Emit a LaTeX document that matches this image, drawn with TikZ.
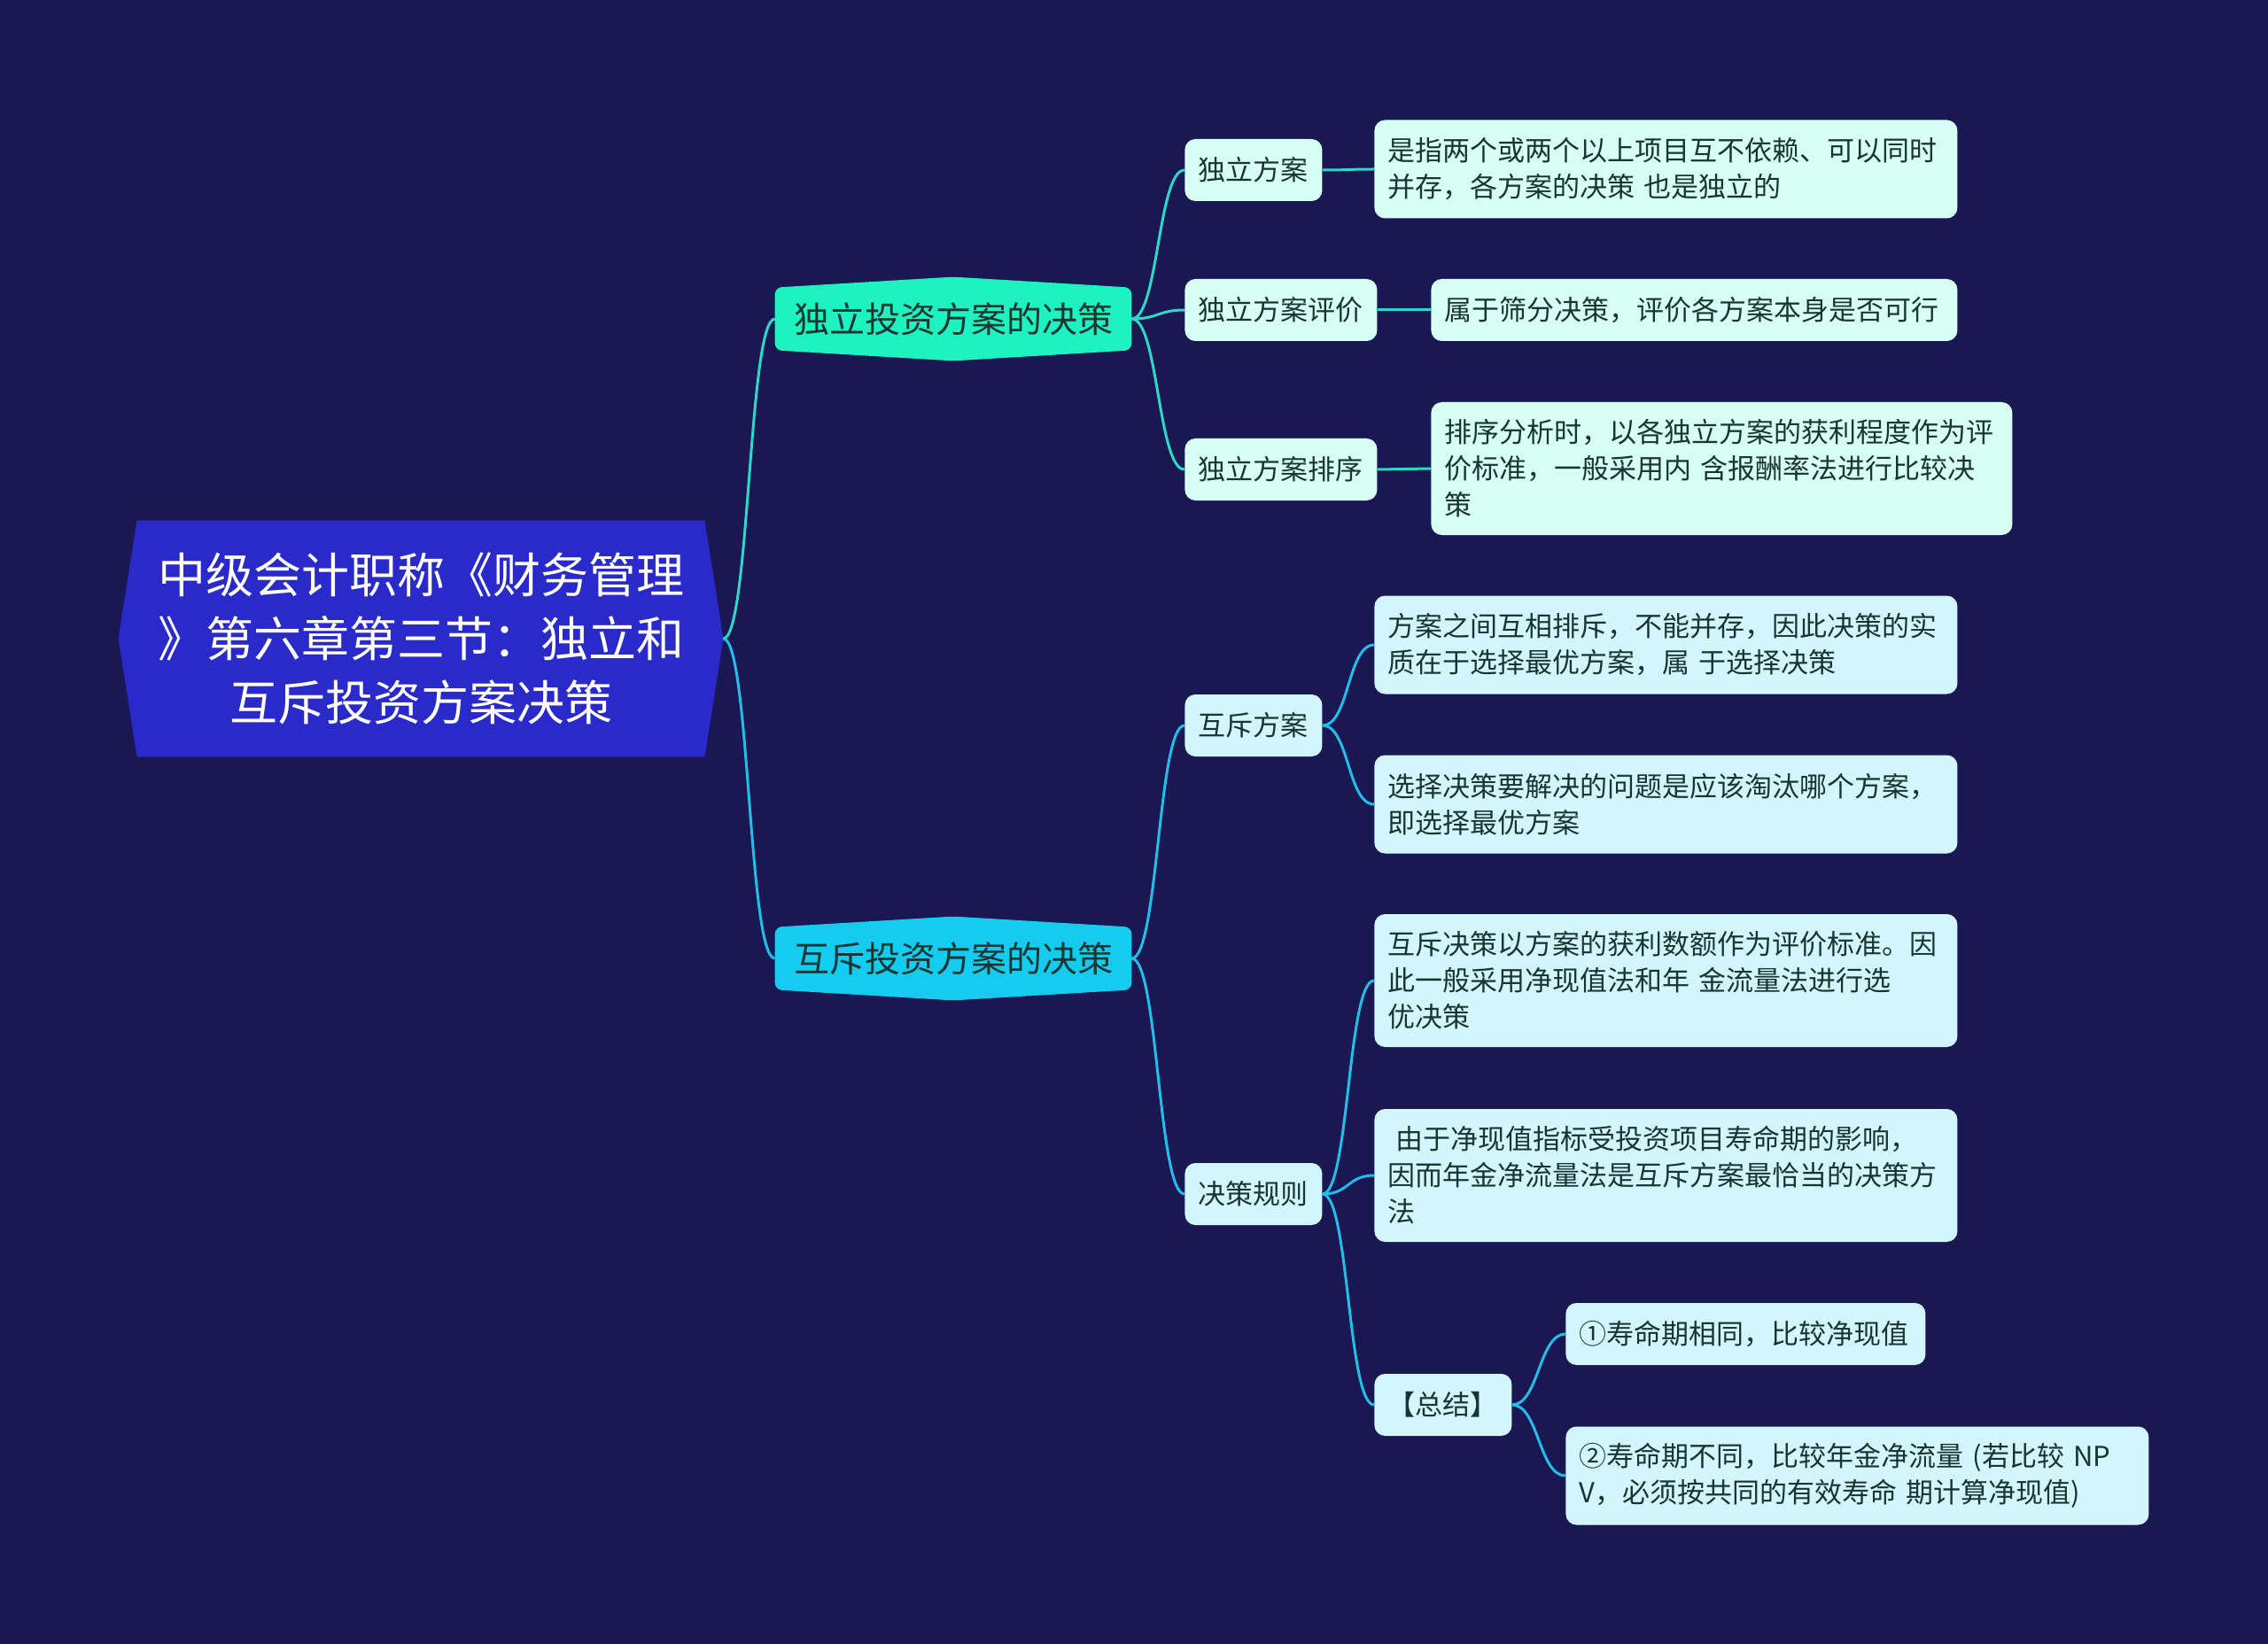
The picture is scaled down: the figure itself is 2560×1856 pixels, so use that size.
\documentclass[tikz,border=0pt]{standalone}
\usepackage{fontspec}
\setmainfont{Noto Sans CJK SC}
\usetikzlibrary{calc}
\definecolor{bg}{HTML}{1A1852}
\definecolor{rootc}{HTML}{2A2ACA}
\definecolor{b1c}{HTML}{1EF2C0}
\definecolor{b2c}{HTML}{14CBF0}
\definecolor{l1c}{HTML}{D8FFF4}
\definecolor{l2c}{HTML}{D3F5FC}
\definecolor{txt}{HTML}{173632}
\definecolor{e1c}{HTML}{2ED8C6}
\definecolor{e2c}{HTML}{22BDE8}
\pgfdeclarelayer{bottom}
\pgfdeclarelayer{background}
\pgfsetlayers{bottom,background,main}
\tikzset{
  rootbox/.style={text=white, minimum width=320pt, minimum height=133pt, inner sep=0pt, align=center, font=\fontsize{27pt}{36pt}\selectfont},
  branchbox/.style={text=txt, minimum width=201pt, minimum height=35pt, inner sep=0pt, font=\fontsize{20pt}{26pt}\selectfont},
  midbox/.style={text=txt, anchor=west, minimum height=35pt, inner sep=0pt, rounded corners=6pt, align=center, font=\fontsize{15.5pt}{20.5pt}\selectfont},
  leafbox/.style={text=txt, anchor=west, inner xsep=7.5pt, inner ysep=0pt, rounded corners=6pt, align=left, font=\fontsize{15.5pt}{20.5pt}\selectfont},
  conn/.style={line width=1.5pt},
}
\begin{document}
\begin{tikzpicture}[x=0.5pt,y=-0.5pt]
\begin{pgfonlayer}{bottom}
\fill[bg] (0,0) rectangle (2560,1856);
\end{pgfonlayer}
\useasboundingbox (0,0) rectangle (2560,1856);

% root
\node[rootbox] (root) at (475,721) {中级会计职称《财务管理\\》第六章第三节：独立和\\互斥投资方案决策};
\coordinate (rootTip) at ($(root.east)+(21,0)$);

% branches
\node[branchbox] (b1) at (1076,360) {独立投资方案的决策};
\node[branchbox] (b2) at (1076,1082) {互斥投资方案的决策};

\begin{pgfonlayer}{background}
\fill[rootc] (root.north west) -- (root.north east) -- (rootTip) -- (root.south east) -- (root.south west) -- ($(root.west)+(-21,0)$) -- cycle;
\fill[b1c, rounded corners=4pt] (b1.west) -- (b1.north west) -- ($(b1.north)+(0,-12)$) -- (b1.north east) -- (b1.south east) -- ($(b1.south)+(0,12)$) -- (b1.south west) -- cycle;
\fill[b2c, rounded corners=4pt] (b2.west) -- (b2.north west) -- ($(b2.north)+(0,-12)$) -- (b2.north east) -- (b2.south east) -- ($(b2.south)+(0,12)$) -- (b2.south west) -- cycle;
\end{pgfonlayer}

% level 2, branch 1
\node[midbox, fill=l1c, minimum width=77.5pt] (n1) at (1337,192) {独立方案};
\node[midbox, fill=l1c, minimum width=108.5pt] (n2) at (1337,350) {独立方案评价};
\node[midbox, fill=l1c, minimum width=108.5pt] (n3) at (1337,530) {独立方案排序};

\node[leafbox, fill=l1c, text width=314pt, minimum height=55.5pt] (l1) at (1551,191) {是指两个或两个以上项目互不依赖、可以同时\\并存，各方案的决策 也是独立的};
\node[leafbox, fill=l1c, text width=282pt, minimum height=35pt] (l2) at (1615,350) {属于筛分决策，评价各方案本身是否可行};
\node[leafbox, fill=l1c, text width=313pt, minimum height=75pt] (l3) at (1615,529) {排序分析时，以各独立方案的获利程度作为评\\价标准，一般采用内 含报酬率法进行比较决\\策};

% level 2, branch 2
\node[midbox, fill=l2c, minimum width=77.5pt] (m1) at (1337,819) {互斥方案};
\node[midbox, fill=l2c, minimum width=77.5pt] (m2) at (1337,1348) {决策规则};

\node[leafbox, fill=l2c, text width=314pt, minimum height=55.5pt] (p1) at (1551,728) {方案之间互相排斥，不能并存，因此决策的实\\质在于选择最优方案，属 于选择决策};
\node[leafbox, fill=l2c, text width=314pt, minimum height=55.5pt] (p2) at (1551,908) {选择决策要解决的问题是应该淘汰哪个方案，\\即选择最优方案};
\node[leafbox, fill=l2c, text width=314pt, minimum height=75pt] (q1) at (1551,1107) {互斥决策以方案的获利数额作为评价标准。因\\此一般采用净现值法和年 金流量法进行选\\优决策};
\node[leafbox, fill=l2c, text width=314pt, minimum height=75pt] (q2) at (1551,1327) {\hspace{0.3em}由于净现值指标受投资项目寿命期的影响，\\因而年金净流量法是互斥方案最恰当的决策方\\法};
\node[midbox, fill=l2c, minimum width=77.5pt] (s0) at (1551,1586) {【总结】};
\node[leafbox, fill=l2c, text width=188pt, minimum height=35pt] (s1) at (1767,1506) {①寿命期相同，比较净现值};
\node[leafbox, fill=l2c, text width=314pt, minimum height=55.5pt] (s2) at (1767,1666) {②寿命期不同，比较年金净流量 (若比较 NP\\V，必须按共同的有效寿命 期计算净现值)};

% connectors
\draw[conn, e1c] (rootTip) .. controls +(30,0) and +(-30,0) .. (b1.west);
\draw[conn, e2c] (rootTip) .. controls +(30,0) and +(-30,0) .. (b2.west);

\foreach \t in {n1,n2,n3}
  \draw[conn, e1c] (b1.east) .. controls +(30,0) and +(-30,0) .. (\t.west);
\draw[conn, e1c] (n1.east) .. controls +(30,0) and +(-30,0) .. (l1.west);
\draw[conn, e1c] (n2.east) .. controls +(30,0) and +(-30,0) .. (l2.west);
\draw[conn, e1c] (n3.east) .. controls +(30,0) and +(-30,0) .. (l3.west);

\foreach \t in {m1,m2}
  \draw[conn, e2c] (b2.east) .. controls +(30,0) and +(-30,0) .. (\t.west);
\foreach \t in {p1,p2}
  \draw[conn, e2c] (m1.east) .. controls +(30,0) and +(-30,0) .. (\t.west);
\foreach \t in {q1,q2,s0}
  \draw[conn, e2c] (m2.east) .. controls +(30,0) and +(-30,0) .. (\t.west);
\foreach \t in {s1,s2}
  \draw[conn, e2c] (s0.east) .. controls +(30,0) and +(-30,0) .. (\t.west);
\end{tikzpicture}
\end{document}
